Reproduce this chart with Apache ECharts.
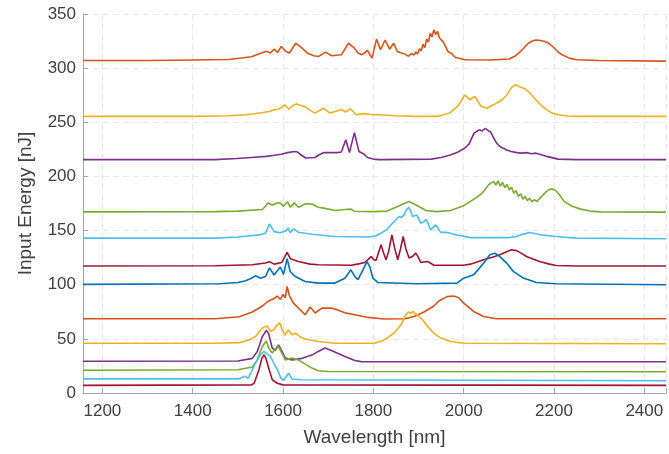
<!DOCTYPE html>
<html><head><meta charset="utf-8">
<script src="https://cdn.jsdelivr.net/npm/echarts@6/dist/echarts.min.js"></script>
<style>html,body{margin:0;padding:0;background:#fff}#c{width:669px;height:454px}</style>
</head><body><div id="c"></div>
<script>
// Spectra, offset by input energy [nJ]; pairs are [wavelength nm, value]
const orange307 = [[1157,307],[1300,307],[1400,307.5],[1480,308],[1530,310.5],[1546,313],[1563,315.5],[1572,314],[1580,317.5],[1588,314.5],[1596,320],[1606,315.5],[1614,314],[1628,323],[1642,318.5],[1654,313.8],[1668,311.5],[1679,310.8],[1694,314.8],[1708,311.4],[1729,312.3],[1745,323],[1758,318.5],[1766,314],[1774,312.3],[1787,316.3],[1797,309.2],[1807,326.8],[1816,317],[1826,326],[1836,317.5],[1845,323],[1853,315.4],[1862,314],[1870,313],[1878,311],[1884,313.5],[1890,312],[1894,315],[1898,313],[1902,318],[1906,316],[1910,322],[1914,319],[1918,327],[1922,324],[1926,332],[1930,329],[1934,335.5],[1938,331],[1942,334],[1946,328],[1950,329],[1955,324],[1965,315.4],[1973,313.5],[1981,310],[2000,308],[2010,307.7],[2060,307.5],[2101,308.5],[2115,311.5],[2126,315.4],[2143,323],[2152,325],[2160,326],[2170,325.5],[2180,324.6],[2190,322.5],[2197,320],[2210,314.5],[2218,312.3],[2235,309],[2251,307.7],[2300,307],[2448,306.5]];
const yellow255 = [[1157,255.5],[1400,255.5],[1480,256],[1520,257],[1555,259],[1570,260],[1580,261.5],[1590,262],[1604,266],[1613,262],[1620,265],[1629,267],[1640,265.5],[1650,264],[1660,261],[1671,258.5],[1689,263],[1704,258.5],[1716,260],[1729,262],[1738,259.5],[1749,262.5],[1762,257],[1778,258],[1800,257],[1812,257],[1850,256],[1894,255.5],[1944,255.5],[1969,258.5],[1986,264.6],[1995,270],[2002,275.4],[2008,273],[2015,270.8],[2020,273],[2025,273.8],[2032,269],[2039,264.6],[2052,263],[2060,265],[2070,267],[2085,270.8],[2095,275],[2102,280],[2108,283],[2114,284.6],[2120,283.5],[2126,282.5],[2135,281],[2143,278.5],[2152,274.5],[2160,270.8],[2172,265.5],[2184,261.5],[2196,258.5],[2209,257],[2230,255.8],[2251,255.5],[2448,255.5]];
const purple215 = [[1157,215.5],[1450,215.5],[1497,216.5],[1530,217.5],[1563,218.5],[1580,219.5],[1596,220.5],[1610,222],[1625,223],[1632,222.5],[1638,220.5],[1650,217],[1671,217.5],[1680,220],[1691,222],[1705,222],[1720,222],[1729,222.5],[1739,233.8],[1747,222],[1758,240.5],[1768,223],[1778,221],[1787,217.5],[1800,216],[1812,215.5],[1928,216],[1950,217.5],[1969,219.5],[1985,222],[2002,226],[2012,230],[2023,240],[2030,242],[2035,243],[2041,242],[2048,244.5],[2055,242],[2060,241],[2067,235],[2073,230.8],[2080,227.6],[2094,224.6],[2105,223],[2118,222],[2128,221.5],[2139,222],[2150,221],[2160,221.5],[2172,220],[2184,218.5],[2209,216],[2251,215.5],[2448,215.5]];
const green167 = [[1157,167.3],[1450,167.5],[1500,168],[1554,169.5],[1560,172],[1567,175.6],[1574,174],[1580,174],[1587,175.5],[1593,175.6],[1601,172.5],[1610,176.6],[1616,171.5],[1625,175.6],[1634,171.5],[1642,173],[1649,174.7],[1664,174.5],[1678,171.6],[1693,170.5],[1715,168.5],[1737,169.5],[1751,169.8],[1758,167.8],[1800,167.5],[1830,168],[1854,172.2],[1868,175],[1879,176.9],[1890,174.5],[1898,172.9],[1916,168.6],[1941,167.5],[1971,168.5],[2000,173],[2015,177],[2026,180],[2036,183],[2044,186],[2055,192.2],[2066,195.5],[2071,192],[2076,196],[2081,191],[2086,194.5],[2091,189.5],[2096,192.5],[2101,187.5],[2106,190],[2111,184.5],[2116,187],[2121,181.5],[2126,184],[2131,179],[2136,181.5],[2141,177.5],[2146,180],[2151,176.5],[2156,178.5],[2162,177],[2168,179.5],[2175,182.5],[2183,186],[2190,188],[2196,188.5],[2205,186.5],[2214,182],[2222,177],[2240,172.5],[2259,169.8],[2280,168],[2303,167.3],[2448,167]];
const lightblue142 = [[1157,143],[1450,143],[1500,144],[1547,146],[1561,147.5],[1570,156.2],[1580,149],[1593,148],[1605,149.5],[1611,152.2],[1616,148],[1623,151.6],[1634,148.5],[1664,146.6],[1715,144.5],[1788,144],[1805,145],[1817,147.6],[1830,151],[1839,155.3],[1850,160],[1857,163],[1862,162],[1868,164.5],[1873,169.1],[1879,171.6],[1887,163],[1896,164.5],[1905,156.8],[1911,158],[1917,160.5],[1927,150.7],[1938,155.3],[1949,148.3],[1960,148.5],[1971,147.5],[1985,145.9],[2015,143.5],[2100,143.5],[2117,144.5],[2130,146.5],[2146,148.3],[2160,147],[2175,145.8],[2205,144.5],[2250,143],[2448,142.5]];
const darkred117 = [[1157,117.3],[1450,117.5],[1532,118.5],[1561,120],[1570,121.3],[1580,119],[1597,120.5],[1609,129.8],[1616,124],[1634,121.5],[1660,119],[1678,118.5],[1751,118],[1770,119.5],[1781,120.5],[1795,126],[1801,123],[1806,122.5],[1811,129],[1817,136.9],[1822,130],[1828,123],[1834,131],[1841,146],[1847,134],[1854,123],[1860,133],[1866,144.5],[1872,133],[1879,124.6],[1886,126],[1894,129.2],[1900,125],[1905,120.5],[1920,121.5],[1934,118],[2000,118],[2015,119],[2044,123],[2065,125.5],[2080,127.6],[2095,130.5],[2106,132.2],[2117,131.5],[2130,128.5],[2139,126.1],[2155,123.5],[2168,121.5],[2190,119],[2205,117.8],[2250,117.3],[2448,117.3]];
const blue100 = [[1157,100.3],[1459,100.9],[1500,102],[1517,103.7],[1530,106],[1539,108.2],[1550,106],[1561,107.5],[1570,115.5],[1580,109],[1594,116.4],[1601,109.5],[1609,124],[1616,112],[1627,107.6],[1649,103],[1678,101.5],[1715,101.5],[1737,106],[1750,113.7],[1759,107.6],[1766,104.6],[1777,113.7],[1786,121.4],[1792,116.8],[1799,106],[1810,102],[1898,100.9],[1985,101.5],[2000,106],[2022,109.1],[2044,119.9],[2058,127.6],[2069,129.1],[2080,126],[2095,120],[2110,112.3],[2132,106.1],[2161,102],[2205,100.9],[2448,100]];
const orange68 = [[1157,68.5],[1450,68.5],[1503,70.4],[1532,74.8],[1554,80.3],[1568,85],[1580,87.2],[1587,89.5],[1594,86.5],[1600,91],[1605,88],[1609,98.4],[1614,90],[1623,83],[1634,78.4],[1649,72.3],[1660,79.4],[1671,73.9],[1686,78.4],[1707,78.4],[1718,77],[1737,74],[1759,72.3],[1788,69.8],[1824,68.3],[1870,68.5],[1890,70.6],[1912,74.8],[1934,80.3],[1945,85],[1963,89],[1978,89.6],[1989,88],[2000,83],[2022,75.3],[2044,70.6],[2073,68.6],[2448,68.5]];
const yellow45 = [[1157,46],[1450,46],[1503,46.5],[1525,49],[1539,52.2],[1554,60],[1565,62],[1572,57],[1580,58.5],[1587,63],[1593,64.6],[1598,58.5],[1604,53.5],[1612,58.3],[1620,53.8],[1628,55.3],[1637,52],[1649,49.8],[1678,47.6],[1715,46],[1802,46],[1824,49],[1846,55.3],[1861,63],[1872,72.2],[1878,75],[1883,73.5],[1888,75.5],[1893,73],[1898,72.2],[1909,67.6],[1920,61.5],[1934,55.3],[1949,50.7],[1971,47.6],[2000,46],[2448,45.5]];
const purple28 = [[1157,29.3],[1500,29.5],[1532,32],[1543,38.4],[1554,52],[1563,57.8],[1568,55],[1576,41.5],[1583,39.5],[1590,44.5],[1597,39],[1605,32.2],[1620,30.6],[1642,32],[1664,35],[1678,38.4],[1693,41.5],[1707,39.3],[1722,36.5],[1737,33.8],[1759,30],[1773,29],[2448,28.9]];
const green19 = [[1157,21],[1500,21.5],[1532,24],[1543,30.6],[1554,43],[1563,48],[1568,41.6],[1576,37],[1589,43.6],[1597,37],[1605,30.6],[1620,32.2],[1634,30.6],[1649,26.7],[1664,23],[1678,20.6],[1700,19.8],[2448,19.6]];
const lightblue12 = [[1157,13],[1500,13],[1517,15.5],[1522,13.5],[1528,18],[1539,27.7],[1550,35.3],[1558,38.4],[1565,36],[1572,33.8],[1580,27],[1587,22],[1595,14],[1601,11.6],[1612,18.3],[1620,13],[1640,12.3],[2448,11.3]];
const darkred7 = [[1157,7],[1530,7.5],[1536,9],[1547,22],[1553,32],[1558,35.3],[1562,32],[1569,22],[1576,12.4],[1587,9],[1600,7.5],[2448,7]];

const yTicks = [0,50,100,150,200,250,300,350];
const xTicks = [1200,1400,1600,1800,2000,2200,2400];

const C = {blue:'#0072BD',orange:'#D95319',yellow:'#EDB120',purple:'#7E2F8E',green:'#77AC30',lightblue:'#4DBEEE',darkred:'#A2142F'};
const seriesList = [
  [orange307,C.orange],[yellow255,C.yellow],[purple215,C.purple],[green167,C.green],
  [lightblue142,C.lightblue],[darkred117,C.darkred],[blue100,C.blue],[orange68,C.orange],
  [yellow45,C.yellow],[purple28,C.purple],[green19,C.green],[lightblue12,C.lightblue],[darkred7,C.darkred]
];
const font = 'Liberation Sans, Arial, sans-serif';
const chart = echarts.init(document.getElementById('c'));
chart.setOption({
  animation:false,
  grid:{left:83,right:0,top:14,bottom:61},
  xAxis:{type:'value',min:1157,max:2448,splitNumber:6,
    axisLine:{lineStyle:{color:'#a6a6a6'}},
    axisTick:{inside:true,length:5,lineStyle:{color:'#a6a6a6'}},
    axisLabel:{formatter:v=>xTicks.includes(v)?String(v):'',color:'#404040',fontSize:17,fontFamily:font,margin:10},
    splitLine:{show:true,lineStyle:{type:[6,4],color:'#e8e8e8'}},
    name:'Wavelength [nm]',nameLocation:'middle',nameGap:35,
    nameTextStyle:{fontSize:19,color:'#404040',fontFamily:font}},
  yAxis:{type:'value',min:yTicks[0],max:yTicks[yTicks.length-1],interval:50,
    axisLine:{show:true,lineStyle:{color:'#a6a6a6'}},
    axisTick:{show:true,inside:true,length:5,lineStyle:{color:'#a6a6a6'}},
    axisLabel:{color:'#404040',fontSize:17,fontFamily:font,margin:7},
    splitLine:{show:true,lineStyle:{type:[6,4],color:'#e8e8e8'}},
    name:'Input Energy [nJ]',nameLocation:'middle',nameGap:48,
    nameTextStyle:{fontSize:19,color:'#404040',fontFamily:font}},
  series:seriesList.map(([d,c],i)=>({type:'line',data:d,showSymbol:false,symbol:'none',z:2+i,
    lineStyle:{color:c,width:1.6},itemStyle:{color:c}}))
});
</script></body></html>
